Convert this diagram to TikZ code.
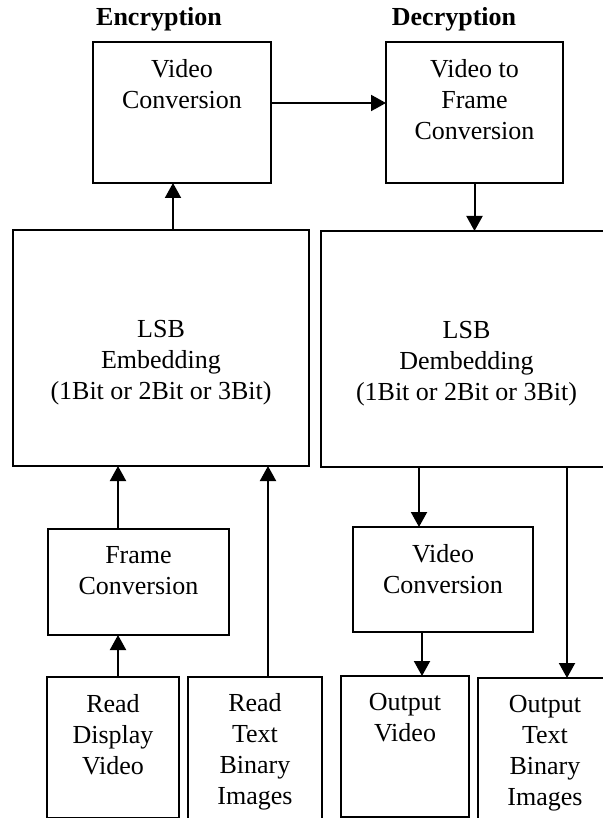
\documentclass[tikz,border=0pt]{standalone}
\usepackage{fontspec}
\setmainfont{Liberation Serif}
\usetikzlibrary{arrows.meta, positioning}

\tikzset{
  block/.style={draw, line width=1pt, inner sep=0pt, outer sep=0pt},
  blocktext/.style={anchor=north, align=center, inner sep=0pt, yshift=#1},
  blocktext/.default=-8.5pt,
  head/.style={font=\fontsize{13}{15.5}\selectfont\bfseries, anchor=base},
  arr/.style={line width=1pt, -{Triangle[length=7.5pt, width=8pt]}},
}

\begin{document}
\begin{tikzpicture}[x=0.5pt, y=-0.5pt, font=\fontsize{13}{15.5}\selectfont]
	\clip (0,0) rectangle (603,818);
	
	% encryption
	\node[head] (enctitle) at (159,26) {Encryption};
	\node[block, anchor=north west, minimum width=89pt, minimum height=70.5pt,
	      label={[blocktext]north:Video\\Conversion}] (encvid) at (93,42) {};
	\node[block, below=23.5pt of encvid, xshift=-10.5pt, minimum width=148pt, minimum height=118pt,
	      label={[blocktext=-45pt]north:LSB\\Embedding\\(1Bit or 2Bit or 3Bit)}] (lsbenc) {};
	\node[block, below=31.5pt of lsbenc, xshift=-11.25pt, minimum width=90.5pt, minimum height=53pt,
	      label={[blocktext]north:Frame\\Conversion}] (framecv) {};
	\node[block, below=21pt of framecv, xshift=-12.75pt, minimum width=66pt, minimum height=70.5pt,
	      label={[blocktext]north:Read\\Display\\Video}] (readvid) {};
	\node[block, right=4.5pt of readvid, minimum width=67pt, minimum height=71pt,
	      label={[blocktext]north:Read\\Text\\Binary\\Images}] (readtxt) {};
	
	% decryption
	\node[head] (dectitle) at (454,26) {Decryption};
	\node[block, right=57.5pt of encvid, minimum width=88.5pt, minimum height=70.5pt,
	      label={[blocktext]north:Video to\\Frame\\Conversion}] (decvid) {};
	\node[block, below=24pt of decvid, xshift=-4pt, minimum width=145.5pt, minimum height=118pt,
	      label={[blocktext=-45pt]north:LSB\\Dembedding\\(1Bit or 2Bit or 3Bit)}] (lsbdec) {};
	\node[block, below=30pt of lsbdec, xshift=-11.75pt, minimum width=90pt, minimum height=52.5pt,
	      label={[blocktext]north:Video\\Conversion}] (viddec) {};
	\node[block, below=22pt of viddec, xshift=-19pt, minimum width=64pt, minimum height=70.5pt,
	      label={[blocktext]north:Output\\Video}] (outvid) {};
	\node[block, right=4.5pt of outvid, yshift=-1pt, minimum width=67pt, minimum height=70.5pt,
	      label={[blocktext]north:Output\\Text\\Binary\\Images}] (outtxt) {};
	
	% arrows
	\draw[arr] ([yshift=-30.5pt]encvid.north east) -- ([yshift=-30.5pt]decvid.north west);
	\draw[arr] ([xshift=6pt]lsbenc.north) -- ([xshift=6pt]lsbenc.north |- encvid.south);
	\draw[arr] ([xshift=-10.25pt]framecv.north) -- ([xshift=-10.25pt]framecv.north |- lsbenc.south);
	\draw[arr] ([xshift=2.5pt]readvid.north) -- ([xshift=2.5pt]readvid.north |- framecv.south);
	\draw[arr] ([xshift=6.5pt]readtxt.north) -- ([xshift=6.5pt]readtxt.north |- lsbenc.south);
	\draw[arr] (decvid.south) -- (decvid.south |- lsbdec.north);
	\draw[arr] ([xshift=-12pt]viddec.north |- lsbdec.south) -- ([xshift=-12pt]viddec.north);
	\draw[arr] ([xshift=8.5pt]outvid.north |- viddec.south) -- ([xshift=8.5pt]outvid.north);
	\draw[arr] ([xshift=11pt]outtxt.north |- lsbdec.south) -- ([xshift=11pt]outtxt.north);
	
\end{tikzpicture}
\end{document}
